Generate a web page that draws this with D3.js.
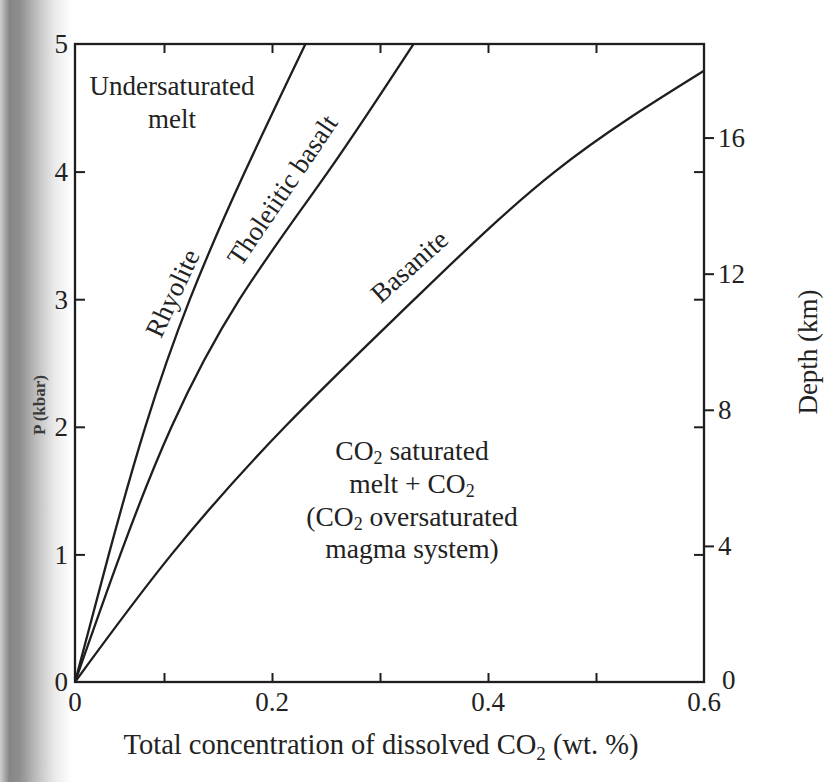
<!DOCTYPE html>
<html>
<head>
<meta charset="utf-8">
<script src="https://cdn.jsdelivr.net/npm/d3@7"></script>
<style>
  html, body { margin: 0; padding: 0; background: #fff; }
  svg { display: block; }
  text { font-family: "Liberation Serif", "Times New Roman", serif; fill: #222; }
</style>
</head>
<body>
<svg id="chart" width="827" height="782"></svg>
<script>
// ---- data ----
const xTicks = [0, 0.1, 0.2, 0.3, 0.4, 0.5, 0.6];
const xTickLabels = ["0", "", "0.2", "", "0.4", "", "0.6"];
const pTicks = [0, 1, 2, 3, 4, 5];
const depthTicks = [0, 4, 8, 12, 16];

const rhyoliteCO2 = [0, 0.038, 0.079, 0.124, 0.175, 0.231];
const rhyoliteP   = [0, 1, 2, 3, 4, 5];

const tholeiiteCO2 = [0, 0.051, 0.107, 0.170, 0.252, 0.331];
const tholeiiteP   = [0, 1, 2, 3, 4, 5];

const basaniteCO2 = [0, 0.107, 0.212, 0.332, 0.462, 0.600];
const basaniteP   = [0, 1, 2, 3, 4, 4.79];

const series = [
  { name: "Rhyolite", co2: rhyoliteCO2, p: rhyoliteP },
  { name: "Tholeiitic basalt", co2: tholeiiteCO2, p: tholeiiteP },
  { name: "Basanite", co2: basaniteCO2, p: basaniteP }
];

// ---- layout ----
const svg = d3.select("#chart");
const L = 75, R = 704, T = 44, B = 682;

// scanned figure: first interval on the x axis is drawn narrower
const x = d3.scaleLinear().domain([0, 0.1, 0.6]).range([L, 164, R]);
const y = d3.scaleLinear().domain([0, 5]).range([B, T]);
const depth = d3.scaleLinear().domain([0, 18.75]).range([B, T]);

// scan shadow on the left edge
const defs = svg.append("defs");
const grad = defs.append("linearGradient").attr("id", "shade")
  .attr("x1", 0).attr("x2", 1).attr("y1", 0).attr("y2", 0);
[[0, "#cfcfcf"], [0.13, "#868686"], [0.28, "#8f8f8f"], [0.5, "#bdbdbd"], [0.75, "#e9e9e9"], [1, "#ffffff"]]
  .forEach(([o, c]) => grad.append("stop").attr("offset", o).attr("stop-color", c));
svg.append("rect").attr("x", 0).attr("y", 0).attr("width", 72).attr("height", 782)
  .attr("fill", "url(#shade)");

const stroke = "#1e1e1e";

// ---- axes ----
const gB = svg.append("g").attr("transform", `translate(0,${B})`)
  .call(d3.axisTop(x).tickValues(xTicks.slice(1, -1)).tickSize(9).tickFormat(""));
const gT = svg.append("g").attr("transform", `translate(0,${T})`)
  .call(d3.axisBottom(x).tickValues(xTicks.slice(1, -1)).tickSize(9).tickFormat(""));
const gL = svg.append("g").attr("transform", `translate(${L},0)`)
  .call(d3.axisRight(y).tickValues(pTicks.slice(1, -1)).tickSize(10).tickFormat(""));
const gRi = svg.append("g").attr("transform", `translate(${R},0)`)
  .call(d3.axisLeft(y).tickValues(pTicks.slice(1, -1)).tickSize(10).tickFormat(""));
const gRo = svg.append("g").attr("transform", `translate(${R},0)`)
  .call(d3.axisRight(depth).tickValues(depthTicks.slice(1)).tickSize(10).tickFormat(""));
[gB, gT, gL, gRi, gRo].forEach(g => {
  g.select(".domain").remove();
  g.selectAll("line").attr("stroke", stroke).attr("stroke-width", 2);
});

// frame
svg.append("rect").attr("x", L).attr("y", T).attr("width", R - L).attr("height", B - T)
  .attr("fill", "none").attr("stroke", stroke).attr("stroke-width", 2.3);

// tick labels
const fs = 27;
svg.append("g").selectAll("text").data(xTicks.filter((d, i) => xTickLabels[i]))
  .join("text").attr("x", d => x(d)).attr("y", 711)
  .attr("text-anchor", "middle").attr("font-size", fs)
  .text(d => xTickLabels[xTicks.indexOf(d)]);

svg.append("g").selectAll("text").data(pTicks).join("text")
  .attr("x", 68).attr("y", d => y(d)).attr("dy", "0.35em")
  .attr("text-anchor", "end").attr("font-size", fs).text(d => d);

svg.append("g").selectAll("text").data(depthTicks).join("text")
  .attr("x", d => d === 0 ? 722 : 718).attr("y", d => d === 0 ? depth(d) - 2 : depth(d))
  .attr("dy", "0.35em").attr("font-size", fs).text(d => d);

// axis titles
const xt = svg.append("text").attr("x", 381).attr("y", 754).attr("text-anchor", "middle")
  .attr("font-size", 28.5);
xt.append("tspan").text("Total concentration of dissolved CO");
xt.append("tspan").attr("font-size", 19).attr("dy", 6).text("2");
xt.append("tspan").attr("dy", -6).text(" (wt. %)");

svg.append("text").attr("transform", "translate(45,405) rotate(-90)")
  .attr("text-anchor", "middle").attr("font-size", 17).attr("font-weight", "bold")
  .style("fill", "#3a3a3a").text("P (kbar)");

svg.append("text").attr("transform", "translate(808,352) rotate(-90)")
  .attr("text-anchor", "middle").attr("dy", "0.35em").attr("font-size", fs).text("Depth (km)");

// ---- curves ----
const line = d3.line().x(d => x(d[0])).y(d => y(d[1])).curve(d3.curveNatural);
svg.append("g").selectAll("path").data(series).join("path")
  .attr("d", s => line(s.co2.map((c, i) => [c, s.p[i]])))
  .attr("fill", "none").attr("stroke", stroke).attr("stroke-width", 2.3);

// ---- annotations ----
const curveLabels = [
  { text: "Rhyolite", cx: 172, cy: 293, a: -65 },
  { text: "Tholeiitic basalt", cx: 282, cy: 190, a: -56 },
  { text: "Basanite", cx: 409, cy: 266, a: -42 }
];
svg.append("g").selectAll("text").data(curveLabels).join("text")
  .attr("transform", d => `translate(${d.cx},${d.cy}) rotate(${d.a})`)
  .attr("text-anchor", "middle").attr("dy", "0.35em").attr("font-size", fs)
  .text(d => d.text);

svg.append("text").attr("x", 172).attr("y", 95).attr("text-anchor", "middle")
  .attr("font-size", fs).text("Undersaturated");
svg.append("text").attr("x", 172).attr("y", 128).attr("text-anchor", "middle")
  .attr("font-size", fs).text("melt");

function subLine(yb, parts) {
  const t = svg.append("text").attr("x", 412).attr("y", yb).attr("text-anchor", "middle")
    .attr("font-size", 27.5);
  let shifted = false;
  parts.forEach(([s, sub]) => {
    if (sub) {
      t.append("tspan").attr("font-size", 18).attr("dy", 4).text(s);
      shifted = true;
    } else {
      t.append("tspan").attr("dy", shifted ? -4 : 0).text(s);
      shifted = false;
    }
  });
}
subLine(460, [["CO"], ["2", true], [" saturated"]]);
subLine(493, [["melt + CO"], ["2", true]]);
subLine(526, [["(CO"], ["2", true], [" oversaturated"]]);
subLine(558, [["magma system)"]]);
</script>
</body>
</html>
